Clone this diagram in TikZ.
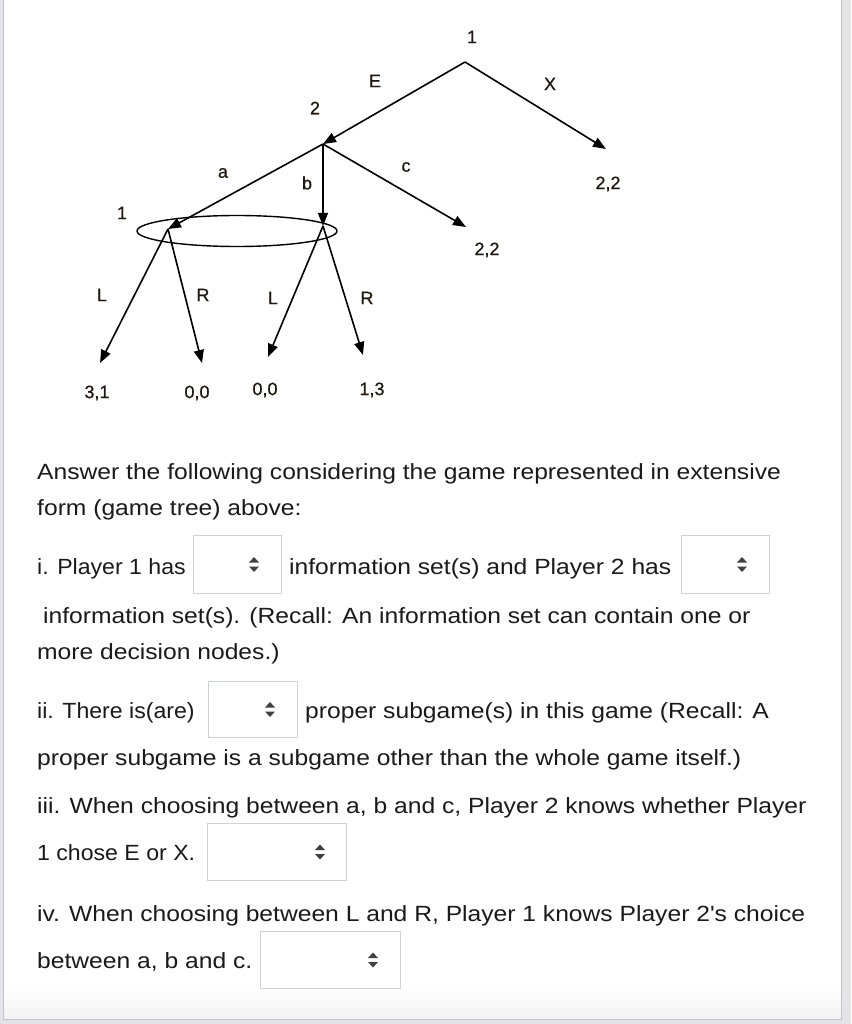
\documentclass[tikz,border=0pt]{standalone}
\usepackage{fontspec}
\setmainfont{Liberation Sans}
\newfontfamily\qfont[FakeStretch=1.12]{Liberation Sans}
\newfontfamily\qfontn[FakeStretch=1.05]{Liberation Sans}
\newfontfamily\tfont[FakeBold=0.6]{Liberation Sans}
\usetikzlibrary{arrows.meta}
\definecolor{boxgray}{HTML}{CED2D6}
\definecolor{glyphc}{HTML}{404040}
\definecolor{pagegray}{HTML}{E4E4E8}
\definecolor{edgegray}{HTML}{C4C4C8}
\definecolor{txtc}{HTML}{1A1A1A}
\definecolor{treetxt}{HTML}{1E1810}
\begin{document}
\begin{tikzpicture}[x=1pt,y=-1pt,
  edge/.style={line width=1.6pt,-{Triangle[length=13pt,width=10pt]}},
  lab/.style={font=\tfont\fontsize{18}{20}\selectfont, inner sep=0pt, text=treetxt},
  txt/.style={anchor=base west, inner sep=0pt, font=\qfont\fontsize{22}{26}\selectfont, text=txtc},
  txtn/.style={txt, font=\qfontn\fontsize{22}{26}\selectfont},
  selbox/.style={draw=boxgray, line width=1pt, fill=white, anchor=north west, minimum height=58pt},
  updown/.pic={
    \fill[glyphc] (-5,-2) -- (5,-2) -- (0,-7.5) -- cycle;
    \fill[glyphc] (-5,2) -- (5,2) -- (0,7.5) -- cycle;
  }
]
\useasboundingbox (0,0) rectangle (851,1024);
% page frame
\fill[pagegray] (0,0) rectangle (851,1024);
\fill[white] (3,0) rectangle (841,1019);
\shade[top color=white, bottom color=black!5] (3,985) rectangle (841,1019);
\draw[edgegray, line width=1pt] (3,0) -- (3,1019) -- (841,1019) -- (841,0);

% ---- game tree ----
\coordinate (root) at (465,62);
\coordinate (p2) at (323,144);
\coordinate (n1a) at (168,229);
\coordinate (n1b) at (323,226);
\coordinate (xleaf) at (606,149);
\coordinate (cleaf) at (466,227);
\coordinate (ll) at (100,363);
\coordinate (lr) at (202,363);
\coordinate (rl) at (268,357);
\coordinate (rr) at (363,355);

\draw[line width=1.4pt] (237,231) ellipse [x radius=100, y radius=15.5];

\draw[edge] (root) -- (p2);
\draw[edge] (root) -- (xleaf);
\draw[edge] (p2) -- (n1a);
\draw[edge, line width=1.1pt] (p2) -- (n1b);
\draw[edge] (p2) -- (cleaf);
\draw[edge] (n1a) -- (ll);
\draw[edge] (n1a) -- (lr);
\draw[edge] (n1b) -- (rl);
\draw[edge] (n1b) -- (rr);

\node[lab] (lroot) at (472,37) {1};
\node[lab] (lE) at (375,81) {E};
\node[lab] (lX) at (550,84) {X};
\node[lab] (pX) at (608,184) {2,2};
\node[lab] (lp2) at (315,108) {2};
\node[lab] (la) at (223,173) {a};
\node[lab] (lb) at (307,183) {b};
\node[lab] (lc) at (406,167) {c};
\node[lab] (pc) at (487,250) {2,2};
\node[lab] (lp1) at (122,213) {1};
\node[lab] (lL1) at (102,295) {L};
\node[lab] (lR1) at (203,295) {R};
\node[lab] (lL2) at (273,298) {L};
\node[lab] (lR2) at (367,298) {R};
\node[lab] (p1) at (97,393) {3,1};
\node[lab] (p2l) at (197,393) {0,0};
\node[lab] (p3) at (265,390) {0,0};
\node[lab] (p4) at (372,390) {1,3};

% ---- question text ----
\node[txt] (t1) at (37,479) {Answer the following considering the game represented in extensive};
\node[txt] (t2) at (37,515) {form (game tree) above:};
\node[txtn] (t3) at (37,574) {i. Player 1 has};
\node[selbox, minimum width=88pt] (b1) at (193,535) {};
\pic at ([xshift=-28pt]b1.east) {updown};
\node[txt] (t3b) at (289,574) {information set(s) and Player 2 has};
\node[selbox, minimum width=88pt] (b2) at (681,535) {};
\pic at ([xshift=-28pt]b2.east) {updown};
\node[txt] (t4) at (43,623) {information set(s). (Recall: An information set can contain one or};
\node[txt] (t5) at (37,659) {more decision nodes.)};
\node[txtn] (t6) at (37,718) {ii. There is(are)};
\node[selbox, minimum width=89pt, minimum height=56pt] (b3) at (208,681) {};
\pic at ([xshift=-28pt]b3.east) {updown};
\node[txt] (t6b) at (305,718) {proper subgame(s) in this game (Recall: A};
\node[txt] (t7) at (37,765) {proper subgame is a subgame other than the whole game itself.)};
\node[txt] (t8) at (37,813) {iii. When choosing between a, b and c, Player 2 knows whether Player};
\node[txtn] (t9) at (37,860) {1 chose E or X.};
\node[selbox, minimum width=139pt, minimum height=57pt] (b4) at (207,823) {};
\pic at ([xshift=-27pt]b4.east) {updown};
\node[txt] (t10) at (37,921) {iv. When choosing between L and R, Player 1 knows Player 2's choice};
\node[txt] (t11) at (37,968) {between a, b and c.};
\node[selbox, minimum width=140pt, minimum height=57pt] (b5) at (260,931) {};
\pic at ([xshift=-28pt]b5.east) {updown};
\end{tikzpicture}
\end{document}
